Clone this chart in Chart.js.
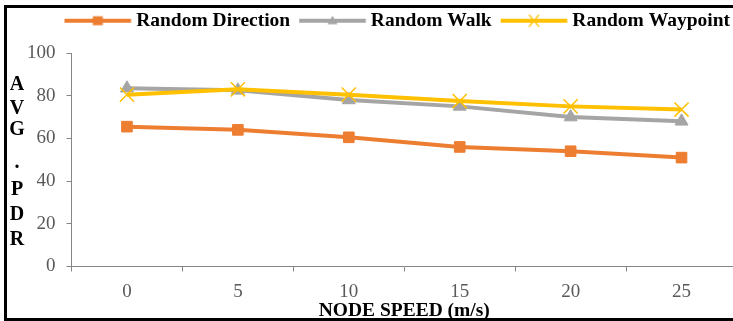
<!DOCTYPE html>
<html>
<head>
<meta charset="utf-8">
<title>Avg. PDR vs node speed</title>
<script src="https://cdn.jsdelivr.net/npm/chart.js@4.4.0/dist/chart.umd.min.js"></script>
<style>
  html, body { margin: 0; padding: 0; background: #fff; overflow: hidden; }
  #wrap { position: relative; width: 733px; height: 321px; overflow: hidden; }
  #pdrChart { position: absolute; left: 0; top: 0; }
  #frame { position: absolute; left: 4px; top: 5px; width: 800px; height: 316px;
           box-sizing: border-box; border: 3px solid #000; pointer-events: none; }
</style>
</head>
<body>
<div id="wrap">
  <!-- the plot runs slightly past the right edge of the picture, as in the original -->
  <canvas id="pdrChart" width="737" height="321"></canvas>
  <div id="frame"></div>
</div>
<script>
// ---- data ----
const speeds = ['0', '5', '10', '15', '20', '25'];
const randomDirection = [65.5, 64, 60.5, 56, 54, 51];
const randomWalk = [83.5, 82.5, 78, 75, 70, 68];
const randomWaypoint = [80.5, 83, 80.5, 77.5, 75, 73.5];
const seriesNames = ['Random Direction', 'Random Walk', 'Random Waypoint'];
const yTitleLetters = ['A', 'V', 'G', '.', 'P', 'D', 'R'];

const ORANGE = '#ED7D31';
const GREY = '#A5A5A5';
const YELLOW = '#FFC000';
const SERIF = '"Liberation Serif", "Times New Roman", serif';

Chart.defaults.font.family = SERIF;

// legend swatch: short line with the marker in the middle (like Excel)
function legendSample(color, style) {
  const c = document.createElement('canvas');
  c.width = 76; c.height = 16;
  const g = c.getContext('2d');
  const x0 = 8, x1 = 74.6, mid = (x0 + x1) / 2;
  g.strokeStyle = color;
  g.fillStyle = color;
  g.lineWidth = 4;
  g.beginPath(); g.moveTo(x0, 8); g.lineTo(x1, 8); g.stroke();
  if (style === 'rect') {
    g.fillRect(mid - 5, 3.5, 10, 9);
  } else if (style === 'triangle') {
    g.beginPath(); g.moveTo(mid, 3); g.lineTo(mid + 5, 11.5); g.lineTo(mid - 5, 11.5); g.closePath(); g.fill();
  } else {
    g.lineWidth = 1.2;
    g.beginPath();
    g.moveTo(mid - 5, 2); g.lineTo(mid + 5, 14);
    g.moveTo(mid + 5, 2); g.lineTo(mid - 5, 14);
    g.stroke();
  }
  return c;
}
const samples = [legendSample(ORANGE, 'rect'), legendSample(GREY, 'triangle'), legendSample(YELLOW, 'cross')];

// fixed legend band height so the plot starts where the original does
const legendSpace = {
  id: 'legendSpace',
  beforeInit(chart) {
    const fit = chart.legend.fit;
    chart.legend.fit = function () { fit.call(this); this.height = 49; };
  }
};

// stacked letters for the y title
const yTitle = {
  id: 'yTitle',
  afterDraw(chart) {
    const ctx = chart.ctx;
    const ys = [85, 109, 130, 163, 190, 215, 240];
    ctx.save();
    ctx.font = 'bold 20px ' + SERIF;
    ctx.fillStyle = '#000';
    ctx.textAlign = 'center';
    ctx.textBaseline = 'middle';
    yTitleLetters.forEach((ch, i) => ctx.fillText(ch, 17, ys[i]));
    ctx.restore();
  }
};

const tickFont = { family: SERIF, size: 19, lineHeight: 1 };

new Chart(document.getElementById('pdrChart'), {
  type: 'line',
  data: {
    labels: speeds,
    datasets: [
      { label: seriesNames[0], data: randomDirection, borderColor: ORANGE, backgroundColor: ORANGE,
        borderWidth: 4, pointStyle: 'rect', pointRadius: 7.5, pointBorderWidth: 1, order: 3 },
      { label: seriesNames[1], data: randomWalk, borderColor: GREY, backgroundColor: GREY,
        borderWidth: 4, pointStyle: 'triangle', pointRadius: 7.5, pointBorderWidth: 1, order: 2 },
      { label: seriesNames[2], data: randomWaypoint, borderColor: YELLOW, backgroundColor: YELLOW,
        borderWidth: 4, pointStyle: 'crossRot', pointRadius: 10, pointBorderWidth: 1.5, order: 1 }
    ]
  },
  options: {
    responsive: false,
    animation: false,
    devicePixelRatio: 1,
    layout: { autoPadding: false, padding: { top: 4, right: 0, bottom: 0, left: 0 } },
    plugins: {
      tooltip: { enabled: false },
      legend: {
        position: 'top',
        align: 'end',
        labels: {
          usePointStyle: true,
          pointStyleWidth: 63.9,
          padding: 7,
          color: '#000',
          font: { family: SERIF, size: 19.5, weight: 'bold' },
          sort: (a, b) => a.datasetIndex - b.datasetIndex,
          generateLabels(chart) {
            const items = Chart.defaults.plugins.legend.labels.generateLabels(chart);
            items.forEach(it => { it.pointStyle = samples[it.datasetIndex]; it.rotation = 0; });
            return items;
          }
        }
      }
    },
    scales: {
      x: {
        offset: true,
        grid: { offset: true, drawOnChartArea: false, tickLength: 5, color: '#868686' },
        border: { color: '#868686', width: 1 },
        ticks: { color: '#595959', font: tickFont, padding: 11, maxRotation: 0 },
        title: {
          display: true,
          text: 'NODE SPEED (m/s)',
          color: '#000',
          font: { family: SERIF, size: 19.5, weight: 'bold', lineHeight: 1 },
          padding: { top: 0, bottom: 0 }
        },
        afterFit(scale) {
          scale.height = 54.5;
          scale.paddingLeft = 0;
          scale.paddingRight = 0;
        }
      },
      y: {
        min: 0,
        max: 100,
        ticks: { stepSize: 20, color: '#595959', font: tickFont, padding: 11 },
        grid: { drawOnChartArea: false, tickLength: 5, color: '#868686' },
        border: { color: '#868686', width: 1 },
        afterFit(scale) { scale.width = 71.5; }
      }
    }
  },
  plugins: [legendSpace, yTitle]
});
</script>
</body>
</html>
